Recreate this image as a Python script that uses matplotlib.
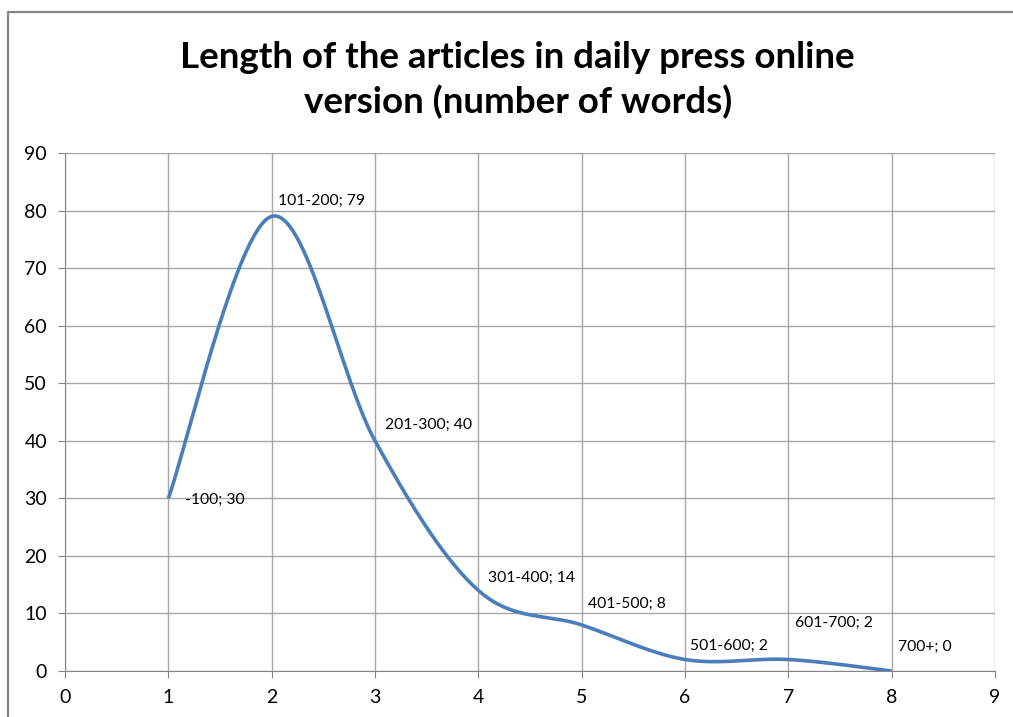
import numpy as np
import matplotlib.pyplot as plt
from matplotlib.lines import Line2D

# data
x_vals = [1, 2, 3, 4, 5, 6, 7, 8]
y_vals = [30, 79, 40, 14, 8, 2, 2, 0]
labels = ['-100; 30', '101-200; 79', '201-300; 40', '301-400; 14',
          '401-500; 8', '501-600; 2', '601-700; 2', '700+; 0']
# label offsets in pixels (right, up)
lab_off = [(17, -2), (6, 15), (10, 16), (10, 13), (6, 21), (5, 14), (7, 37), (6, 24)]

title = 'Length of the articles in daily press online\nversion (number of words)'

plt.rcParams['font.family'] = ['Lato', 'DejaVu Sans']


def smooth(xs, ys, n=40):
    # excel style smoothed line: bezier segments, catmull-rom control points
    xs = np.asarray(xs, float)
    ys = np.asarray(ys, float)
    px = np.concatenate([[xs[0]], xs, [xs[-1]]])
    py = np.concatenate([[ys[0]], ys, [ys[-1]]])
    outx, outy = [], []
    t = np.linspace(0, 1, n)
    for i in range(1, len(px) - 2):
        p0 = np.array([px[i], py[i]])
        p3 = np.array([px[i + 1], py[i + 1]])
        c1 = p0 + (np.array([px[i + 1], py[i + 1]]) - np.array([px[i - 1], py[i - 1]])) / 6
        c2 = p3 - (np.array([px[i + 2], py[i + 2]]) - np.array([px[i], py[i]])) / 6
        b = ((1 - t) ** 3)[:, None] * p0 + (3 * (1 - t) ** 2 * t)[:, None] * c1 \
            + (3 * (1 - t) * t ** 2)[:, None] * c2 + (t ** 3)[:, None] * p3
        outx.extend(b[:, 0])
        outy.extend(b[:, 1])
    return outx, outy


fig = plt.figure(figsize=(10.13, 7.17), dpi=100)
# chart area border (top and left only, the rest is cut off)
bx = 8 / 1013
by = 1 - 12 / 717
fig.add_artist(Line2D([bx, bx, 1.0], [0, by, by], transform=fig.transFigure,
                      color='#868686', linewidth=1.6))

ax = fig.add_axes([65 / 1013, 1 - 671 / 717, 930 / 1013, 518 / 717])
sx, sy = smooth(x_vals, y_vals)
ax.plot(sx, sy, color='#4a7ebb', linewidth=2.6, solid_capstyle='butt', zorder=3)

for xv, yv, lab, off in zip(x_vals, y_vals, labels, lab_off):
    ax.annotate(lab, (xv, yv), xytext=(off[0] * 0.72, off[1] * 0.72),
                textcoords='offset points', fontsize=11.3, va='center', ha='left')

ax.set_xlim(0, 9)
ax.set_ylim(0, 90)
ax.set_xticks(range(0, 10))
ax.set_yticks(range(0, 91, 10))
ax.grid(True, color='#a6a6a6', linewidth=1)
ax.set_axisbelow(True)
for s in ['top', 'right']:
    ax.spines[s].set_visible(False)
for s in ['left', 'bottom']:
    ax.spines[s].set_color('#868686')
ax.tick_params(colors='#868686', labelcolor='black', labelsize=14, length=5)
ax.tick_params(axis='y', pad=8)
ax.tick_params(axis='x', pad=8)

fig.text(0.511, 1 - 80 / 717, title, ha='center', va='center', fontsize=26.5,
         fontweight='bold', linespacing=1.4)

fig.savefig('out.png', dpi=100)
